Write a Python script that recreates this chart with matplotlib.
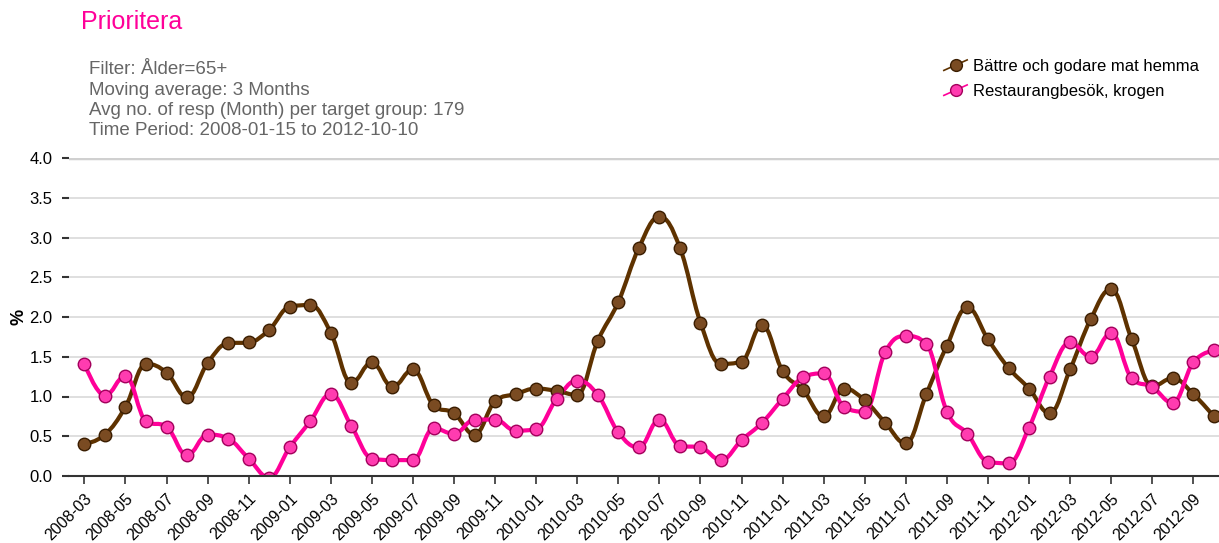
import numpy as np
import pandas as pd
import matplotlib
matplotlib.use("Agg")
import matplotlib.pyplot as plt
from matplotlib.path import Path
from matplotlib.patches import PathPatch
from matplotlib.lines import Line2D
from matplotlib.legend_handler import HandlerLine2D

plt.rcParams['font.family'] = ['Liberation Sans', 'DejaVu Sans']

months = pd.date_range("2008-03-01", "2012-10-01", freq="MS").strftime("%Y-%m").tolist()

battre = [0.40, 0.52, 0.87, 1.41, 1.30, 0.99, 1.42, 1.67, 1.68, 1.84,
          2.13, 2.15, 1.80, 1.17, 1.43, 1.12, 1.34, 0.89, 0.79, 0.52,
          0.94, 1.03, 1.10, 1.07, 1.02, 1.70, 2.19, 2.87, 3.26, 2.87,
          1.93, 1.41, 1.44, 1.90, 1.32, 1.08, 0.75, 1.10, 0.95, 0.67,
          0.41, 1.03, 1.64, 2.12, 1.72, 1.36, 1.10, 0.79, 1.34, 1.97,
          2.35, 1.72, 1.13, 1.23, 1.03, 0.75]

restaurang = [1.41, 1.01, 1.26, 0.69, 0.62, 0.26, 0.52, 0.47, 0.22, -0.02,
              0.36, 0.69, 1.03, 0.63, 0.22, 0.20, 0.20, 0.60, 0.53, 0.71,
              0.71, 0.57, 0.59, 0.97, 1.20, 1.02, 0.55, 0.36, 0.71, 0.38,
              0.36, 0.20, 0.45, 0.67, 0.97, 1.24, 1.29, 0.87, 0.81, 1.56,
              1.76, 1.66, 0.81, 0.53, 0.18, 0.16, 0.61, 1.25, 1.68, 1.50,
              1.80, 1.23, 1.12, 0.92, 1.43, 1.58]

series_names = ["Bättre och godare mat hemma", "Restaurangbesök, krogen"]
line_colors = ["#5e3200", "#ff0099"]
face_colors = ["#7a4b22", "#ff3cb0"]
edge_colors = ["#3a1d00", "#a3005c"]


def spline_path(xs, ys, smoothing=1.5):
    # bezier spline in the style of the original charting tool
    n = len(xs)
    lc = [None] * n
    rc = [None] * n
    d = smoothing + 1
    for i in range(1, n - 1):
        x0, y0 = xs[i - 1], ys[i - 1]
        x, y = xs[i], ys[i]
        x1, y1 = xs[i + 1], ys[i + 1]
        lx, ly = (smoothing * x + x0) / d, (smoothing * y + y0) / d
        rx, ry = (smoothing * x + x1) / d, (smoothing * y + y1) / d
        corr = (ry - ly) * (rx - x) / (rx - lx) + y - ry
        ly += corr
        ry += corr
        if ly > y0 and ly > y:
            ly = max(y0, y); ry = 2 * y - ly
        elif ly < y0 and ly < y:
            ly = min(y0, y); ry = 2 * y - ly
        if ry > y1 and ry > y:
            ry = max(y1, y); ly = 2 * y - ry
        elif ry < y1 and ry < y:
            ry = min(y1, y); ly = 2 * y - ry
        lc[i] = (lx, ly)
        rc[i] = (rx, ry)
    verts = [(xs[0], ys[0])]
    codes = [Path.MOVETO]
    for i in range(1, n):
        c1 = rc[i - 1] if rc[i - 1] else (xs[i - 1], ys[i - 1])
        c2 = lc[i] if lc[i] else (xs[i], ys[i])
        verts += [c1, c2, (xs[i], ys[i])]
        codes += [Path.CURVE4] * 3
    return Path(verts, codes)


class SlantHandler(HandlerLine2D):
    def create_artists(self, legend, orig_handle, xdescent, ydescent,
                       width, height, fontsize, trans):
        x0, x1 = -xdescent, width - xdescent
        y0, y1 = -ydescent, height - ydescent
        line = Line2D([x0, x1], [y0 + 0.05 * height, y1 - 0.05 * height],
                      color=orig_handle.get_color(), lw=1.2, transform=trans)
        mk = Line2D([(x0 + x1) / 2], [(y0 + y1) / 2], marker="o", ms=8.5,
                    mfc=orig_handle.get_markerfacecolor(),
                    mec=orig_handle.get_markeredgecolor(), mew=1,
                    ls="none", transform=trans)
        return [line, mk]


fig = plt.figure(figsize=(12.19, 5.43), dpi=100)
ax = fig.add_axes([69 / 1219, 1 - 476 / 543, 1 - 69 / 1219, 318 / 543])

x = np.arange(len(months))
handles = []
for vals, name, lc_, fc, ec in zip([battre, restaurang], series_names,
                                   line_colors, face_colors, edge_colors):
    p = spline_path(x, vals)
    ax.add_patch(PathPatch(p, fill=False, edgecolor=lc_, lw=3, zorder=3,
                           capstyle="round", joinstyle="round"))
    ax.plot(x, vals, ls="none", marker="o", ms=9, mfc=fc, mec=ec, mew=1,
            zorder=4)
    handles.append(Line2D([], [], color=lc_, marker="o", mfc=fc, mec=ec,
                          label=name))

ax.set_xlim(-0.75, len(months) - 0.75)
ax.set_ylim(0, 4.0)
yt = np.arange(0, 4.01, 0.5)
ax.set_yticks(yt)
ax.set_yticklabels([f"{v:.1f}" for v in yt], fontsize=12)
ax.set_xticks(x[::2])
ax.set_xticklabels(months[::2], rotation=45, ha="right",
                   rotation_mode="anchor", fontsize=11.5)
ax.tick_params(axis="x", length=6, width=1.2, color="#333333", pad=5)
ax.tick_params(axis="y", length=5, width=1.5, color="#333333", pad=7)

for v in np.arange(0.5, 3.51, 0.5):
    ax.axhline(v, color="#d9d9d9", lw=1.2, zorder=1)
ax.axhline(4.0, color="#d0d0d0", lw=2.5, zorder=1)

for s in ["top", "right", "left"]:
    ax.spines[s].set_visible(False)
ax.spines["bottom"].set_color("#333333")
ax.spines["bottom"].set_linewidth(1.5)
ax.spines["bottom"].set_zorder(5)

ax.set_ylabel("%", fontsize=13, fontweight="bold", labelpad=1)

fig.text(81 / 1219, 1 - 22 / 543, "Prioritera", color="#ff0099",
         fontsize=18, va="center")
sub = ["Filter: Ålder=65+", "Moving average: 3 Months",
       "Avg no. of resp (Month) per target group: 179",
       "Time Period: 2008-01-15 to 2012-10-10"]
for i, t in enumerate(sub):
    fig.text(89 / 1219, 1 - (70 + i * 20.3) / 543, t, color="#666666",
             fontsize=13.5, va="center")

fig.legend(handles=handles, loc="upper right",
           bbox_to_anchor=(1214 / 1219, 1 - 44 / 543), frameon=False,
           fontsize=12, handler_map={Line2D: SlantHandler()},
           handlelength=1.4, handletextpad=0.35, labelspacing=0.6)

fig.savefig("out.png", dpi=100)
